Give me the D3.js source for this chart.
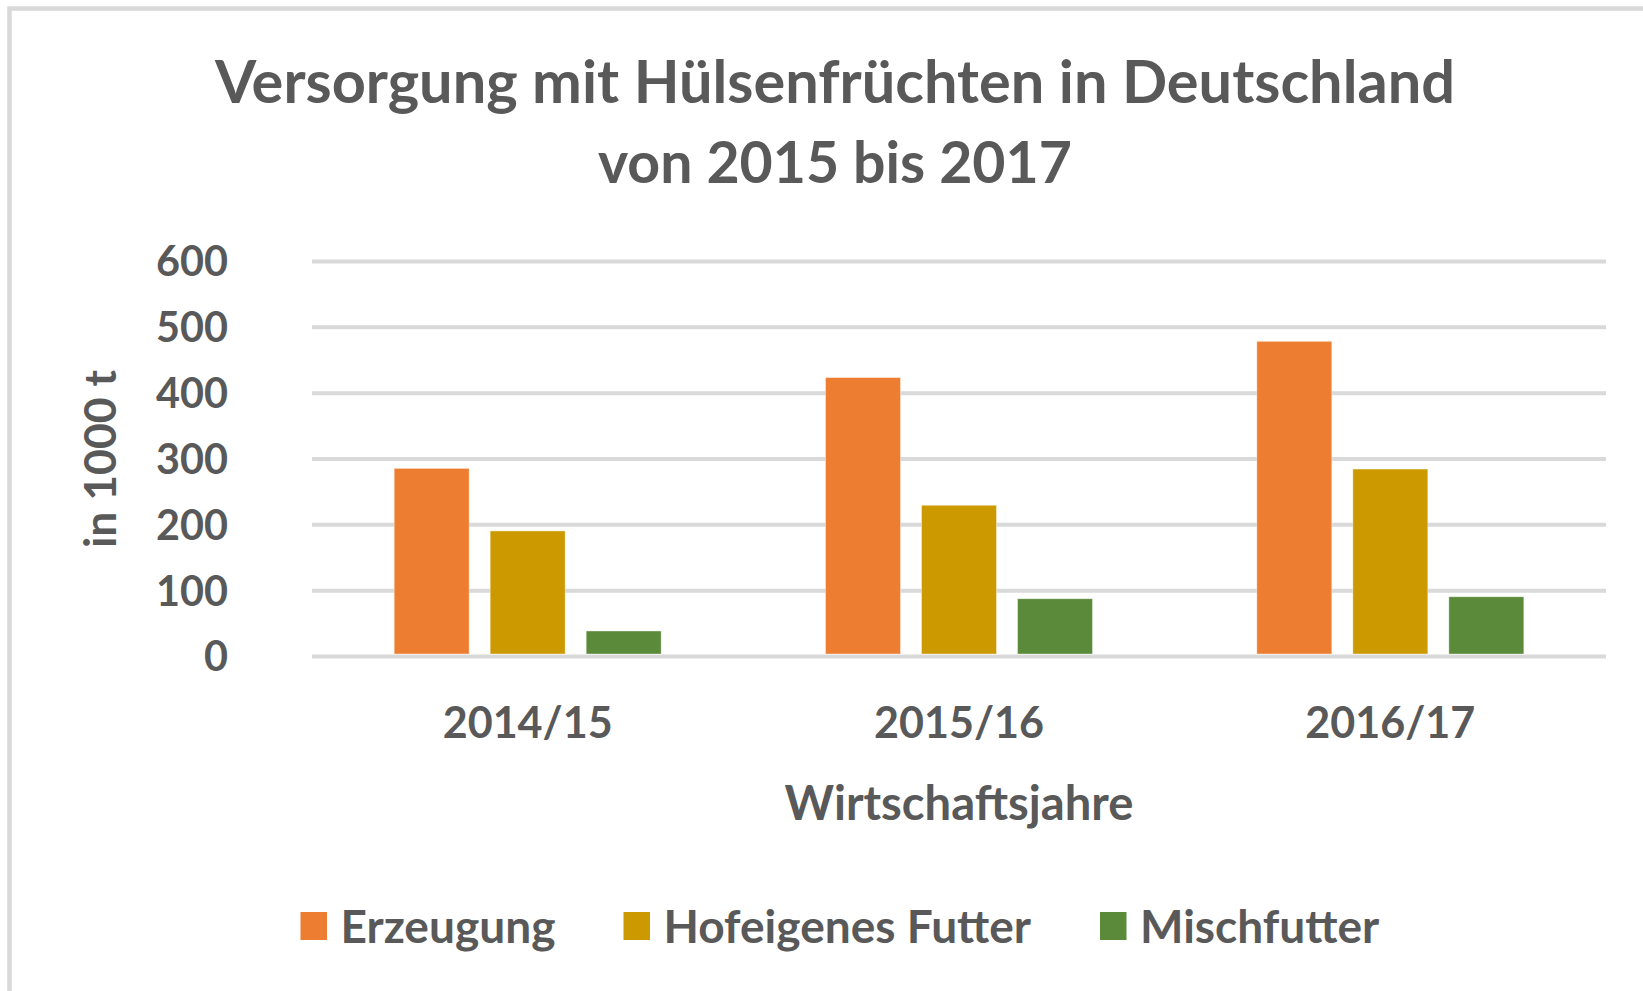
<!DOCTYPE html>
<html>
<head>
<meta charset="utf-8">
<script src="https://cdn.jsdelivr.net/npm/d3@7"></script>
<style>
  html, body { margin: 0; padding: 0; background: #ffffff; }
  svg { display: block; }
  text { font-family: "Lato", "Open Sans", sans-serif; font-weight: 700; fill: #595959; }
</style>
</head>
<body>
<svg id="chart" width="1643" height="991"></svg>
<script>
const titleLines = ["Versorgung mit Hülsenfrüchten in Deutschland", "von 2015 bis 2017"];
const categories = ["2014/15", "2015/16", "2016/17"];
const seriesNames = ["Erzeugung", "Hofeigenes Futter", "Mischfutter"];
const erzeugung = [285, 423, 478];
const hofeigenesFutter = [190, 229, 284];
const mischfutter = [38, 87, 90];
const seriesColors = ["#ED7D31", "#CC9A00", "#5B8A3A"];
const yTicks = [0, 100, 200, 300, 400, 500, 600];
const yAxisTitle = "in 1000 t";
const xAxisTitle = "Wirtschaftsjahre";

(function () {
const seriesValues = [erzeugung, hofeigenesFutter, mischfutter];
const table = categories.map((c, i) => ({
  category: c,
  values: seriesNames.map((s, j) => ({ series: s, value: seriesValues[j][i], color: seriesColors[j] }))
}));

const svg = d3.select("#chart");

function fit(sel, target) {
  const base = 40;
  sel.style("font-size", base + "px");
  const w = sel.node().getComputedTextLength();
  const size = base * target / w;
  sel.style("font-size", size + "px");
  return size;
}

svg.append("rect")
  .attr("x", 9.5).attr("y", 8.5)
  .attr("width", 1700).attr("height", 1100)
  .attr("fill", "none").attr("stroke", "#d9d9d9").attr("stroke-width", 4.5);

const t1 = svg.append("text").attr("x", 835).attr("y", 103).attr("text-anchor", "middle").text(titleLines[0]);
const titleSize = fit(t1, 1240);
const t2 = svg.append("text").attr("x", 835).attr("y", 183).attr("text-anchor", "middle").text(titleLines[1]);
fit(t2, 474);

const pLeft = 312, pRight = 1606, pTop = 261, pBottom = 656;
const x = d3.scaleBand().domain(categories).range([pLeft, pRight]).paddingInner(0).paddingOuter(0);
const groupWidth = 267;
const x1 = d3.scaleBand().domain(seriesNames).range([0, groupWidth]).paddingInner(0.219).paddingOuter(0);
const y = d3.scaleLinear().domain([0, 600]).range([pBottom, pTop]);

const grid = svg.append("g").attr("transform", `translate(${pLeft},0)`)
  .call(d3.axisLeft(y).tickValues(yTicks).tickSize(-(pRight - pLeft)).tickFormat(""));
grid.select(".domain").remove();
grid.selectAll(".tick line").attr("stroke", "#d9d9d9").attr("stroke-width", 4);

const yLab = svg.append("g").attr("transform", `translate(${pLeft},0)`)
  .call(d3.axisLeft(y).tickValues(yTicks).tickSize(0).tickPadding(84).tickFormat(d3.format("d")));
yLab.select(".domain").remove();
yLab.selectAll(".tick text").attr("fill", "#595959").attr("dy", "0.36em")
  .style("font-family", "Lato, 'Open Sans', sans-serif").style("font-weight", 700);
const probe = yLab.selectAll(".tick text").filter(d => d === 600);
const tickSize = fit(probe, 72);
yLab.selectAll(".tick text").style("font-size", tickSize + "px");

const groups = svg.append("g").selectAll("g").data(table).join("g")
  .attr("transform", d => `translate(${x(d.category) + (x.bandwidth() - groupWidth) / 2},0)`);
groups.selectAll("rect").data(d => d.values).join("rect")
  .attr("x", d => x1(d.series))
  .attr("width", x1.bandwidth())
  .attr("y", d => y(d.value))
  .attr("height", d => y(0) - y(d.value) - 2)
  .attr("fill", d => d.color)
  .attr("stroke", "#ffffff").attr("stroke-opacity", 0.5).attr("stroke-width", 0.8);

const xAx = svg.append("g").attr("transform", `translate(0,${pBottom})`)
  .call(d3.axisBottom(x).tickSize(0).tickPadding(0));
xAx.select(".domain").remove();
xAx.selectAll(".tick text").attr("dy", 0).attr("y", 738 - pBottom)
  .attr("fill", "#595959").style("font-family", "Lato, 'Open Sans', sans-serif").style("font-weight", 700);
const xProbe = xAx.selectAll(".tick text").filter(d => d === categories[0]);
const xSize = fit(xProbe, 170);
xAx.selectAll(".tick text").style("font-size", xSize + "px");

const xt = svg.append("text").attr("x", (pLeft + pRight) / 2).attr("y", 820).attr("text-anchor", "middle").text(xAxisTitle);
fit(xt, 349);
const yt = svg.append("text").attr("transform", `translate(116,459) rotate(-90)`).attr("text-anchor", "middle").text(yAxisTitle);
fit(yt, 178);

const legendX = [300.5, 623.5, 1100];
const leg = svg.append("g").selectAll("g").data(seriesNames).join("g")
  .attr("transform", (d, i) => `translate(${legendX[i]},0)`);
leg.append("rect").attr("x", 0).attr("y", 912).attr("width", 26.5).attr("height", 28)
  .attr("fill", (d, i) => seriesColors[i]);
const legTexts = leg.append("text").attr("x", 40).attr("y", 943).text(d => d);
const legSize = fit(legTexts.filter((d, i) => i === 0), 215);
legTexts.style("font-size", legSize + "px");
})();
</script>
</body>
</html>
